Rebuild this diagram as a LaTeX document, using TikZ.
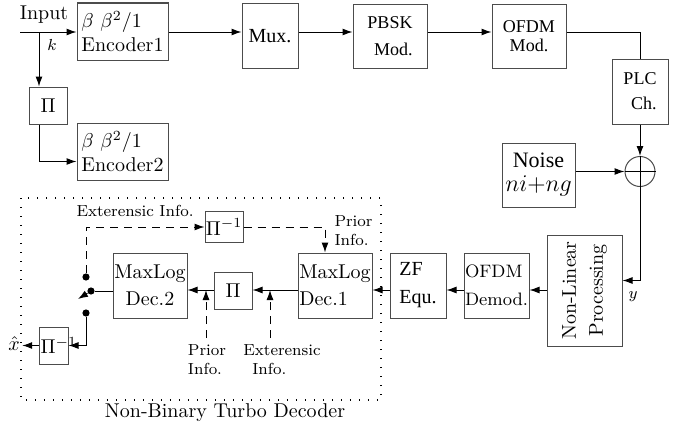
\documentclass[tikz,border=0pt]{standalone}
\usepackage{amsmath, amssymb}
\usepackage{fontspec}
\newfontfamily\tmsfont{Liberation Serif}
\usetikzlibrary{arrows.meta}

\begin{document}
\begin{tikzpicture}[x=0.5pt,y=-0.5pt,
  >={Latex[length=5pt,width=3.5pt]},
  line width=0.5pt,
  blk/.style={draw=black!70, inner sep=1pt},
  lbl/.style={font=\footnotesize, inner sep=0pt},
  swdot/.style={circle, fill, inner sep=0pt, minimum size=3.6pt},
  dsh/.style={dash pattern=on 4pt off 3pt}]
  \useasboundingbox (0,0) rectangle (687,428);
  \coordinate (top) at (0,32);
  \coordinate (row) at (0,290);
  % transmitter
  \coordinate (in) at (20,32);
  \coordinate (br) at (39,32);
  \node (inlbl) at (44,15) {Input};
  \node[lbl] (k) at (52,45) {$k$};
  \node[blk, minimum width=45.5pt, minimum height=28.5pt, align=left] (enc1) at (122.5,31.5)
    {$\beta~\beta^2/1$\\Encoder1};
  \node[blk, minimum width=19pt, minimum height=18.5pt] (pi1) at (48,105.5) {$\Pi$};
  \node[blk, minimum width=45.5pt, minimum height=28.5pt, align=left] (enc2) at (122.5,151.5)
    {$\beta~\beta^2/1$\\Encoder2};
  \node[blk, minimum width=28pt, minimum height=32.5pt, font=\tmsfont] (mux) at (270,36) {Mux.};
  \node[blk, minimum width=37pt, minimum height=32pt, font=\tmsfont\small, align=right] (pbsk) at (390,36)
    {PBSK\\[2.5pt]Mod.};
  \node[blk, minimum width=37pt, minimum height=32pt, font=\tmsfont\small, align=center] (ofdm) at (529,36)
    {OFDM\\[-1.5pt]Mod.};
  \node[blk, minimum width=28pt, minimum height=32.5pt, font=\tmsfont\small, align=right] (plc) at (640,91.5)
    {PLC\\[1.5pt]Ch.};
  \node[draw=black!70, circle, minimum size=15pt, inner sep=0pt] (sum) at (640,171.5) {};
  \node[blk, minimum width=36.5pt, minimum height=32pt, align=center] (noise) at (538.5,175)
    {\fontsize{11}{13}\tmsfont Noise\\[0pt]\large$ni{+}ng$};
  % receiver
  \node[blk, minimum width=37.5pt, minimum height=55.5pt] (nlp) at (584.5,290.5) {};
  \node[rotate=90, align=center] (nlptxt) at (nlp) {Non-Linear\\[1.5pt]Processing};
  \node[blk, minimum width=32.5pt, minimum height=32.5pt, font=\small, align=left, inner sep=0pt] (demod) at (496.5,285.5)
    {OFDM\\[3pt]Demod.};
  \node[blk, minimum width=28pt, minimum height=32.5pt, font=\tmsfont, align=left] (zf) at (418,285.5)
    {ZF\\[2pt]Equ.};
  \node[blk, minimum width=37pt, minimum height=32.5pt, align=left, inner sep=0pt] (dec1) at (335,285.5)
    {MaxLog\\[1.5pt]Dec.1};
  \node[blk, minimum width=19pt, minimum height=18.5pt] (pi2) at (233,290.5) {$\Pi$};
  \node[blk, minimum width=37pt, minimum height=32.5pt, align=center, inner sep=0pt] (dec2) at (150,285.5)
    {MaxLog\\[1.5pt]Dec.2};
  \node[blk, minimum width=19pt, minimum height=15.5pt, inner sep=0pt] (pinv1) at (224,227) {$\Pi^{-1}$};
  \node[blk, minimum width=14.5pt, minimum height=18.5pt] (pinv2) at (53.5,345.5) {};
  \node[anchor=west, inner sep=0pt] (pinv2txt) at ([xshift=0.8pt]pinv2.west) {$\Pi^{-1}$};
  \node[inner sep=1pt] (xhat) at (14,344) {$\hat{x}$};
  \node[lbl] (yl) at (633,297) {$y$};
  \foreach \n/\p in {sw1/{86,277}, sw2/{91,291}, sw3/{86,313}}
    {\node[swdot] (\n) at (\p) {};}
  % labels
  \node[lbl] (extTop) at (135,211) {Exterensic Info.};
  \node[lbl, anchor=west, align=left] (priTop) at (334,231) {Prior\\Info.};
  \node[lbl, align=left] (priBot) at (207,360) {Prior\\Info.};
  \node[lbl, align=left] (extBot) at (282,360) {Exterensic\\\hspace{4.5pt}Info.};
  \node (tdlbl) at (225,413) {Non-Binary Turbo Decoder};
  \draw[line width=0.7pt, dash pattern=on 0.7pt off 3.8pt] (21,198) rectangle (381,400);
  % connectors
  \draw[->] (in) -- (enc1.west |- in);
  \draw[->] (br) -- (br |- pi1.north);
  \draw[->] (br |- pi1.south) |- ([yshift=-5pt]enc2.west);
  \foreach \a/\b in {enc1/mux, mux/pbsk, pbsk/ofdm}
    \draw[->] (\a.east |- top) -- (\b.west |- top);
  \draw (ofdm.east |- top) -| (plc.north);
  \draw[->] (plc.south) -- (sum.north);
  \draw[->] (noise.east |- sum) -- (sum.west);
  \draw (sum.north) -- (sum.south) (sum.west) -- (sum.east);
  \draw[->] (sum.south) |- ([yshift=5pt]nlp.east);
  \foreach \a/\b in {nlp/demod, demod/zf, zf/dec1, dec1/pi2, pi2/dec2}
    \draw[->] (\a.west |- row) -- (\b.east |- row);
  \draw (dec2.west |- sw2) -- (sw2);
  \draw[->] (sw2) -- ++(-13,8);
  \draw[dsh,->] (sw1) |- (pinv1.west);
  \draw[dsh,->] (pinv1.east) -| ([xshift=-5pt]dec1.north);
  \coordinate (pa) at (206,338);
  \coordinate (ea) at (270,338);
  \draw[dsh,->] (pa) -- (pa |- row);
  \draw[dsh,->] (ea) -- (ea |- row);
  \draw[->] (sw3) |- (pinv2.east);
  \draw[->] (pinv2.west) -- (pinv2.west -| xhat.east);
\end{tikzpicture}
\end{document}
